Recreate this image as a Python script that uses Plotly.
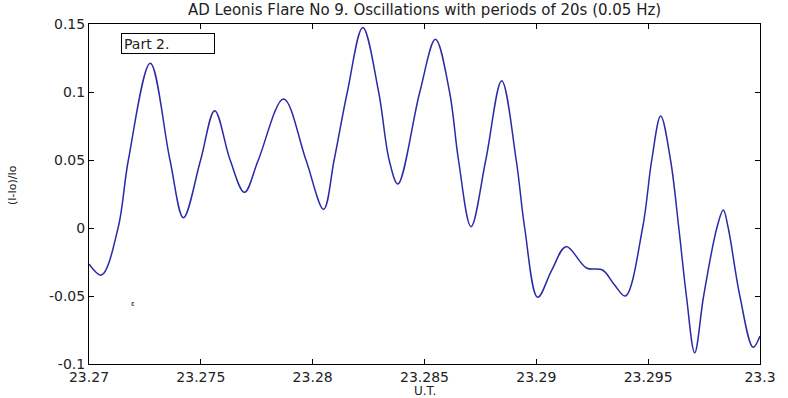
import plotly.graph_objects as go

# Universal time (hours) and relative intensity (I-Io)/Io
ut = [23.27000, 23.27056, 23.27130, 23.27176, 23.27274, 23.27362,
      23.27422, 23.27499, 23.27562, 23.27631, 23.27695, 23.27757, 23.27870, 23.27970,
      23.28049, 23.28096, 23.28155, 23.28224, 23.28295, 23.28342, 23.28381, 23.28479,
      23.28549, 23.28612, 23.28652, 23.28708, 23.28774, 23.28845,
      23.28910, 23.28948, 23.29006, 23.29069, 23.29133, 23.29224, 23.29296, 23.29350,
      23.29398, 23.29475, 23.29516, 23.29556, 23.29600, 23.29637, 23.29671, 23.29708,
      23.29748, 23.29807, 23.29836, 23.29858, 23.29910, 23.29969, 23.30000]
rel_intensity = [-0.0265, -0.0346, 0.0, 0.05, 0.1211, 0.05,
                 0.0076, 0.05, 0.0863, 0.05, 0.0262, 0.05, 0.0949, 0.05,
                 0.0137, 0.05, 0.1, 0.1475, 0.1, 0.05, 0.0324, 0.1,
                 0.1387, 0.1, 0.05, 0.0010, 0.05, 0.1083,
                 0.05, 0.0, -0.0510, -0.031, -0.0137, -0.0294, -0.0309, -0.042,
                 -0.0500, 0.0, 0.05, 0.0824, 0.05, 0.0, -0.05, -0.0917,
                 -0.05, 0.0, 0.0132, 0.0, -0.05, -0.0877, -0.0794]

x_ticks = [23.27, 23.275, 23.28, 23.285, 23.29, 23.295, 23.3]
x_tick_labels = ["23.27", "23.275", "23.28", "23.285", "23.29", "23.295", "23.3"]
y_ticks = [-0.1, -0.05, 0, 0.05, 0.1, 0.15]
y_tick_labels = ["-0.1", "-0.05", "0", "0.05", "0.1", "0.15"]

title_text = "AD Leonis Flare No 9. Oscillations with periods of 20s (0.05 Hz)"
FONT = "DejaVu Sans"
TXT = "#222222"

fig = go.Figure()
fig.add_trace(go.Scatter(
    x=ut, y=rel_intensity, mode="lines",
    line=dict(color="#2a2aa6", width=1.5, shape="spline", smoothing=1.0),
    showlegend=False, hoverinfo="skip"))

axis_common = dict(showgrid=False, zeroline=False, showline=True, linecolor="black",
                   linewidth=1, mirror="ticks", ticks="inside", ticklen=5,
                   tickcolor="black", tickfont=dict(family=FONT, size=14, color=TXT))

fig.update_layout(
    width=788, height=398,
    margin=dict(l=89, r=21, t=24, b=34),
    paper_bgcolor="white", plot_bgcolor="white",
    xaxis=dict(range=[23.27, 23.3], tickvals=x_ticks, ticktext=x_tick_labels,
               **axis_common),
    yaxis=dict(range=[-0.1, 0.15], tickvals=y_ticks, ticktext=y_tick_labels,
               **axis_common),
    annotations=[
        dict(text=title_text, xref="paper", yref="paper", x=0.5, y=1, yshift=3,
             xanchor="center", yanchor="bottom", showarrow=False,
             font=dict(family=FONT, size=15, color=TXT)),
        dict(text="U.T.", xref="paper", yref="paper", x=0.5, y=0, yshift=-19,
             xanchor="center", yanchor="top", showarrow=False, borderpad=0,
             font=dict(family=FONT, size=12, color=TXT)),
        dict(text="(I-Io)/Io", xref="paper", yref="paper", x=0, xshift=-77,
             y=0.5, yshift=9, textangle=-90, xanchor="center", yanchor="middle",
             showarrow=False, font=dict(family=FONT, size=11, color=TXT)),
        dict(text="Part 2.", xref="paper", yref="paper", x=0.0472, y=0.9735,
             xanchor="left", yanchor="top", showarrow=False, align="left",
             bordercolor="black", borderwidth=1, borderpad=2, bgcolor="white",
             width=88, height=15,
             font=dict(family=FONT, size=14, color=TXT)),
        dict(text="ε", xref="paper", yref="paper", x=0.0649, y=0.176,
             xanchor="center", yanchor="middle", showarrow=False,
             font=dict(family=FONT, size=7, color=TXT)),
    ],
)

fig.write_html("out.html")
